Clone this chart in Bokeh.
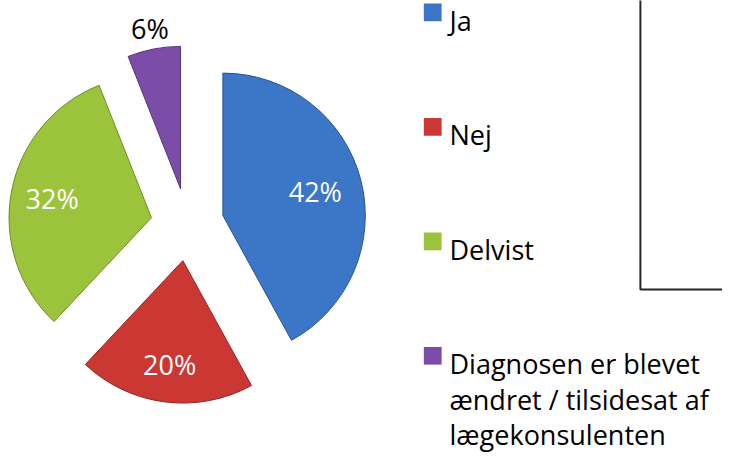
import numpy as np
from bokeh.plotting import figure
from bokeh.models import Range1d, ColumnDataSource, BoxAnnotation
from bokeh.core.properties import value
from bokeh.embed import file_html
from bokeh.resources import INLINE

# ---- data ----
categories = ["Ja", "Nej", "Delvist",
              "Diagnosen er blevet\nændret / tilsidesat af\nlægekonsulenten"]
values = [42, 20, 32, 6]
pct_labels = ["42%", "20%", "32%", "6%"]
colors = ["#3C76C6", "#CB3833", "#9CC33C", "#7B4CA8"]
edge_colors = ["#2A5590", "#8E2522", "#6E8C2A", "#553575"]
label_colors = ["white", "white", "white", "black"]
label_dist = [0.67, 0.74, 0.71, 1.15]

# ---- layout (reference pixels -> data units, y up) ----
H = 465
W = 730
FONT = "Open Sans"
cx0, cy0 = 189, H - 228
explode = 37
R = 144

v = np.array(values, dtype=float)
frac = v / v.sum()
cum = np.cumsum(frac)
t1 = 360 * (cum - frac)          # clockwise from 12 o'clock
t2 = 360 * cum
start = np.radians(90 - t2)
end = np.radians(90 - t1)
mid = np.radians(90 - (t1 + t2) / 2)
cx = cx0 + explode * np.cos(mid)
cy = cy0 + explode * np.sin(mid)
lx = cx + np.array(label_dist) * R * np.cos(mid)
ly = cy + np.array(label_dist) * R * np.sin(mid)

pie = ColumnDataSource(dict(x=cx, y=cy, start=start, end=end, color=colors,
                            edge=edge_colors, lx=lx, ly=ly, lab=pct_labels,
                            lc=label_colors))

p = figure(width=W - 8, height=H - 8, output_backend="svg", toolbar_location=None,
           x_range=Range1d(0, W), y_range=Range1d(0, H),
           min_border=0, outline_line_color=None, background_fill_color="white")
p.axis.visible = False
p.grid.visible = False

p.wedge(x="x", y="y", radius=R, start_angle="start", end_angle="end",
        fill_color="color", line_color="edge", line_width=1, source=pie)
p.text(x="lx", y="ly", text="lab", text_color="lc", text_font=value(FONT),
       text_font_size="27px", text_align="center", text_baseline="middle",
       source=pie)

# ---- legend ----
leg_x = 428
sq = 18
leg_top_center = H - 12
leg_step = 116.5
line_h = 36
rows = dict(x=[], y=[], t=[])
sq_src = dict(left=[], right=[], top=[], bottom=[], color=colors)
for i, cat in enumerate(categories):
    c = leg_top_center - i * leg_step
    sq_src["left"].append(leg_x)
    sq_src["right"].append(leg_x + sq)
    sq_src["top"].append(c + sq / 2)
    sq_src["bottom"].append(c - sq / 2)
    for k, line in enumerate(cat.split("\n")):
        rows["x"].append(leg_x + sq + 8)
        rows["y"].append(c - 8 - k * line_h)
        rows["t"].append(line)

p.quad(left="left", right="right", top="top", bottom="bottom", fill_color="color",
       line_color=None, source=ColumnDataSource(sq_src))
p.text(x="x", y="y", text="t", text_color="black", text_font=value(FONT),
       text_font_size="27px", text_align="left", text_baseline="alphabetic",
       source=ColumnDataSource(rows))

# frame corner of neighbouring box
p.add_layout(BoxAnnotation(left=647, right=W + 20, bottom=H - 294, top=H + 20,
                           fill_alpha=0, line_color="#262626", line_alpha=1,
                           line_width=2))

open("out.html", "w").write(file_html(p, INLINE))
